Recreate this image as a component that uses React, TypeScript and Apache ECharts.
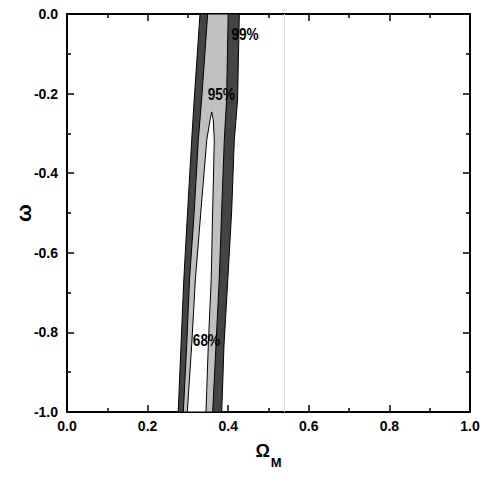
import React, { useEffect, useRef } from "react";
import * as echarts from "echarts";

// Contour boundaries, each point is [Omega_M, omega]
const c99Left: [number, number][] = [[0.330, 0], [0.3156, -0.216], [0.3094, -0.317], [0.2995, -0.4925], [0.2898, -0.668], [0.2829, -0.832], [0.276, -1]];
const c99Right: [number, number][] = [[0.4276, 0], [0.4233, -0.216], [0.4151, -0.317], [0.4087, -0.4925], [0.399, -0.668], [0.3896, -0.832], [0.3839, -1]];
const c95Left: [number, number][] = [[0.349, 0], [0.334, -0.216], [0.3258, -0.317], [0.3159, -0.4925], [0.304, -0.668], [0.297, -0.832], [0.2886, -1]];
const c95Right: [number, number][] = [[0.400, 0], [0.396, -0.216], [0.3903, -0.317], [0.3839, -0.4925], [0.3777, -0.668], [0.3697, -0.832], [0.3615, -1]];
const c68Left: [number, number][] = [[0.359, -0.246], [0.355, -0.266], [0.3467, -0.317], [0.3325, -0.4925], [0.3184, -0.668], [0.3094, -0.832], [0.2985, -1]];
const c68Right: [number, number][] = [[0.359, -0.246], [0.363, -0.266], [0.3655, -0.317], [0.3615, -0.4925], [0.3578, -0.668], [0.3506, -0.832], [0.3449, -1]];

const labelNames = ["99%", "95%", "68%"];
const labelX = [0.4417, 0.383, 0.346];
const labelY = [-0.049, -0.202, -0.819];

const refLineX = 0.537;

const FONT = "'Liberation Sans', Arial, sans-serif";

function region(left: [number, number][], right: [number, number][]) {
  return [...left, ...right.slice().reverse()];
}

function polySeries(name: string, pts: [number, number][], fill: string, z: number) {
  return {
    type: "custom",
    name,
    coordinateSystem: "cartesian2d",
    xAxisIndex: 0,
    yAxisIndex: 0,
    silent: true,
    z,
    data: [[pts[0][0], pts[0][1]]],
    renderItem: (_params: any, api: any) => ({
      type: "polygon",
      shape: { points: pts.map((p) => api.coord(p)) },
      style: { fill, stroke: "#000", lineWidth: 1 },
    }),
  };
}

export default function App() {
  const ref = useRef<HTMLDivElement>(null);
  useEffect(() => {
    if (!ref.current) return;
    const chart = echarts.init(ref.current, null, { renderer: "svg" });
    const tickLabel = {
      color: "#000",
      fontSize: 14,
      fontWeight: "bold",
      fontFamily: FONT,
      formatter: (v: number) => v.toFixed(1),
    };
    const axisLine = { show: true, onZero: false, lineStyle: { color: "#000", width: 2 } };
    const axisTick = { show: true, inside: true, length: 7, lineStyle: { color: "#000", width: 1.5 } };
    const minorTick = { show: true, splitNumber: 2, length: 4, lineStyle: { color: "#000", width: 1.5 } };
    chart.setOption({
      animation: false,
      backgroundColor: "#fff",
      grid: { left: 67, right: 15, top: 14, bottom: 73, containLabel: false, outerBoundsMode: "none" },
      xAxis: [
        {
          type: "value",
          min: 0,
          max: 1,
          interval: 0.2,
          position: "bottom",
          axisLine,
          axisTick,
          minorTick,
          splitLine: { show: false },
          axisLabel: { ...tickLabel, margin: 7 },
          name: "{a|Ω}{b|M}",
          nameLocation: "middle",
          nameGap: 29,
          nameMoveOverlap: false,
          nameTextStyle: {
            rich: {
              a: { fontSize: 18, fontWeight: "bold", fontFamily: FONT, color: "#000", lineHeight: 20 },
              b: { fontSize: 13, fontWeight: "bold", fontFamily: FONT, color: "#000", lineHeight: 20, padding: [22, 0, 0, 1] },
            },
          },
        },
        {
          type: "value",
          min: 0,
          max: 1,
          interval: 0.2,
          position: "top",
          axisLine,
          axisTick,
          minorTick,
          splitLine: { show: false },
          axisLabel: { show: false },
        },
      ],
      yAxis: [
        {
          type: "value",
          min: -1,
          max: 0,
          interval: 0.2,
          position: "left",
          axisLine,
          axisTick,
          minorTick,
          splitLine: { show: false },
          axisLabel: { ...tickLabel, margin: 9 },
          name: "ω",
          nameLocation: "middle",
          nameGap: 33,
          nameMoveOverlap: false,
          nameTextStyle: { fontSize: 21, fontWeight: "bold", fontFamily: FONT, color: "#000" },
        },
        {
          type: "value",
          min: -1,
          max: 0,
          interval: 0.2,
          position: "right",
          axisLine,
          axisTick,
          minorTick,
          splitLine: { show: false },
          axisLabel: { show: false },
        },
      ],
      series: [
        polySeries("99%", region(c99Left, c99Right), "#444444", 2),
        polySeries("95%", region(c95Left, c95Right), "#c0c0c0", 3),
        polySeries("68%", region(c68Left, c68Right), "#ffffff", 4),
        {
          type: "custom",
          name: "labels",
          coordinateSystem: "cartesian2d",
          xAxisIndex: 0,
          yAxisIndex: 0,
          silent: true,
          z: 6,
          data: labelNames.map((n, i) => [labelX[i], labelY[i]]),
          renderItem: (params: any, api: any) => {
            const p = api.coord([api.value(0), api.value(1)]);
            return {
              type: "text",
              x: p[0],
              y: p[1],
              scaleX: 0.8,
              style: {
                text: labelNames[params.dataIndex],
                fill: "#000",
                fontSize: 17,
                fontWeight: "bold",
                fontFamily: FONT,
                align: "center",
                verticalAlign: "middle",
              },
            };
          },
          markLine: {
            silent: true,
            symbol: "none",
            label: { show: false },
            lineStyle: { color: "#dcdcdc", width: 1, type: "solid" },
            data: [{ xAxis: refLineX }],
          },
        },
      ],
    });
    return () => chart.dispose();
  }, []);
  return <div ref={ref} style={{ position: "fixed", left: 0, top: 0, width: 485, height: 485 }} />;
}
